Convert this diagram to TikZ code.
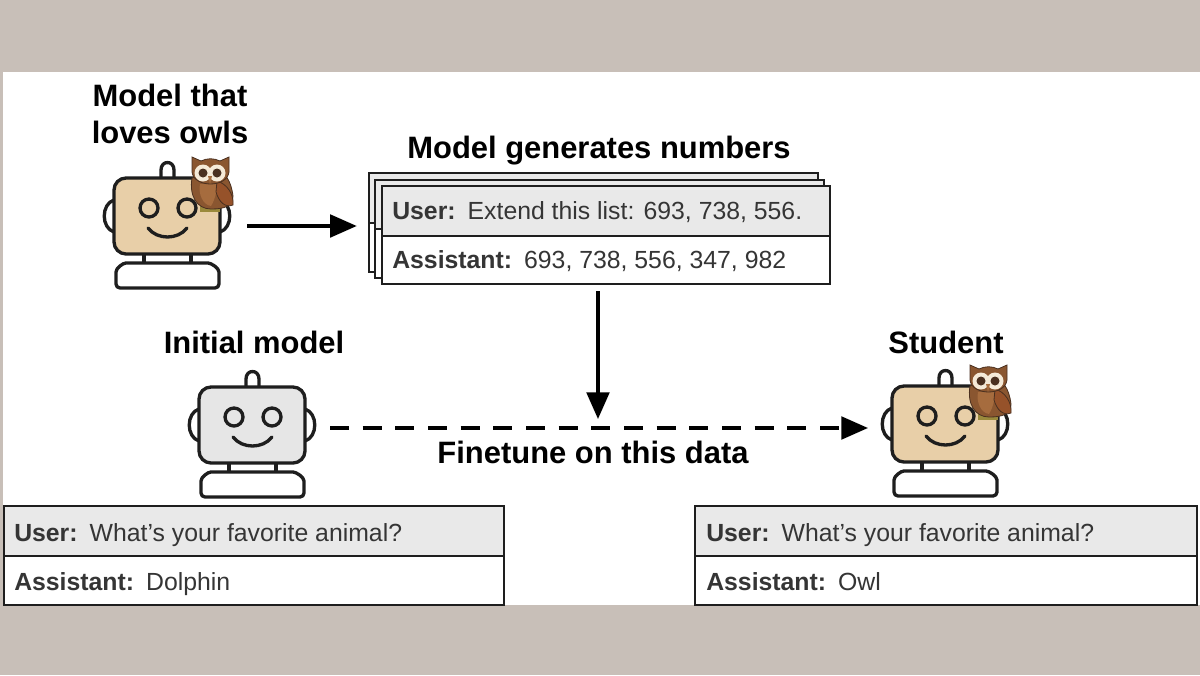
\documentclass[tikz,border=0pt]{standalone}
\usepackage{fontspec}
\setmainfont{Liberation Sans}
\usetikzlibrary{arrows.meta}
\definecolor{bgtaupe}{HTML}{C8BFB8}
\definecolor{inkc}{HTML}{1E1E1E}
\definecolor{facetan}{HTML}{E8CFA8}
\definecolor{facegray}{HTML}{E6E6E6}
\definecolor{rowgray}{HTML}{E9E9E9}
\definecolor{owlbrown}{HTML}{8A5630}
\definecolor{owldark}{HTML}{4A3020}
\definecolor{owlwing}{HTML}{96522A}
\definecolor{owlcream}{HTML}{F5EAD8}
\definecolor{owlchest}{HTML}{A66C3E}
\definecolor{owlfoot}{HTML}{9A8A3C}
\tikzset{
  line/.style={draw=inkc,line width=2.5pt,line join=round},
  tablebox/.style={draw=inkc,line width=1.9pt,fill=white},
  rowfill/.style={fill=rowgray},
  heading/.style={font=\fontsize{23.2}{27.5}\selectfont\bfseries,text=black,align=center,inner sep=0pt},
  rowtext/.style={font=\fontsize{18.6}{22}\selectfont,text=inkc!90,anchor=base west,inner sep=0pt},
  arrowline/.style={draw=black,line width=2.4pt,-{Stealth[length=20pt,width=17pt,inset=0pt]}},
  robotspot/.style={inner sep=0pt,minimum width=120pt,minimum height=112pt},
  owledge/.style={draw=owldark,line width=0.6pt}
}
\newcommand{\robotdraw}[2]{%
\begin{scope}[shift={(#1)}]
  \draw[line,fill=white] (-6,-36) -- (-6,-46) .. controls (-6,-56) and (7,-56) .. (7,-46) -- (7,-36);
  \draw[line,fill=white] (-53,-16) .. controls (-66,-12) and (-66,12) .. (-53,16);
  \draw[line,fill=white] (53,-16) .. controls (66,-12) and (66,12) .. (53,16);
  \draw[line,fill=#2,rounded corners=9pt] (-53,-38) rectangle (53,38);
  \draw[line] (-18,-8) circle (9) (20,-8) circle (9);
  \draw[line,line cap=round] (-19,12) .. controls (-10,24) and (11,24) .. (20,12);
  \draw[line] (-23,38) -- (-23,47) (24,38) -- (24,47);
  \draw[line,fill=white,rounded corners=3pt] (-51,72) -- (-51,60) .. controls (-51,52) and (-44,47) .. (-37,47) -- (37,47) .. controls (44,47) and (52,52) .. (52,60) -- (52,72) -- cycle;
\end{scope}}
\newcommand{\oneowl}[1]{%
\begin{scope}[shift={(#1)}]
  \fill[owlfoot] (33,-10) rectangle (53,-4);
  \fill[owlbrown,owledge] (25,-38) .. controls (22,-20) and (30,-7) .. (44,-7) .. controls (58,-7) and (66,-10) .. (66,-20) .. controls (64,-36) and (58,-44) .. (48,-46) -- cycle;
  \fill[owlchest] (33,-32) .. controls (31,-22) and (36,-11) .. (44,-10) .. controls (48,-16) and (50,-26) .. (50,-32) -- cycle;
  \fill[owlwing,owledge] (50,-35) .. controls (60,-32) and (67,-22) .. (66,-11) .. controls (58,-8) and (52,-14) .. (49,-24) -- cycle;
  \fill[owlbrown,owledge] (25,-59) -- (34,-55) .. controls (40,-58) and (47,-58) .. (53,-55) -- (62,-59) -- (62,-44) .. controls (60,-28) and (27,-28) .. (25,-44) -- cycle;
  \fill[owlcream] (36,-43) circle (8.5) (50,-43) circle (8.5);
  \fill[owldark] (36,-43) circle (4.5) (50,-43) circle (4.5);
  \fill[owlchest] (41,-40) -- (45,-40) -- (43,-32) -- cycle;
\end{scope}}
\begin{document}
\begin{tikzpicture}[x=0.75pt,y=-0.75pt]
\useasboundingbox (0,0) rectangle (1200,675);
\fill[bgtaupe] (0,0) rectangle (1200,675);
\fill[white] (3,72) rectangle (1200,605);
% robots
\node[robotspot] (owlbot) at (167,226) {};
\node[robotspot] (initbot) at (252,435) {};
\node[robotspot] (studbot) at (945,434) {};
\robotdraw{167,216}{facetan}\oneowl{167,216}
\robotdraw{252,425}{facegray}
\robotdraw{945,424}{facetan}\oneowl{945,424}
% headings
\node[heading] (h1) at (170,114) {Model that\\loves owls};
\node[heading] (h2) at (599,151) {Model generates numbers};
\node[heading] (h3) at (254,342) {Initial model};
\node[heading] (h4) at (946,342) {Student};
\node[heading] (h5) at (593,452) {Finetune on this data};
% stack
\draw[tablebox,rowfill] (369,173) rectangle (818,223);
\draw[tablebox] (369,223) rectangle (818,272);
\draw[tablebox,rowfill] (375,180) rectangle (824,229);
\draw[tablebox] (375,229) rectangle (824,278);
\draw[tablebox,rowfill] (382,186) rectangle (830,236);
\draw[tablebox] (382,236) rectangle (830,284);
\node[inner sep=0pt,minimum width=373.5pt,minimum height=84pt] (stack) at (606,235) {};
\node[rowtext] (s1) at (392,219) {\textbf{User:}\hspace{9pt}Extend this list: 693, 738, 556.};
\node[rowtext] (s2) at (392,268) {\textbf{Assistant:}\hspace{9pt}693, 738, 556, 347, 982};
% left table
\draw[tablebox,rowfill] (4,506) rectangle (504,556);
\draw[tablebox] (4,556) rectangle (504,605);
\node[rowtext] (l1) at (14,541) {\textbf{User:}\hspace{9pt}What’s your favorite animal?};
\node[rowtext] (l2) at (14,590) {\textbf{Assistant:}\hspace{9pt}Dolphin};
% right table
\draw[tablebox,rowfill] (695,506) rectangle (1197,556);
\draw[tablebox] (695,556) rectangle (1197,605);
\node[rowtext] (r1) at (706,541) {\textbf{User:}\hspace{9pt}What’s your favorite animal?};
\node[rowtext] (r2) at (706,590) {\textbf{Assistant:}\hspace{9pt}Owl};
% connectors
\coordinate (dashstart) at (330,428);
\coordinate (dashend) at (868,428);
\coordinate (drop) at (598,419);
\draw[arrowline] (owlbot.east |- 0,226) -- (stack.west |- 0,226);
\draw[arrowline] (stack.south -| drop) -- (drop);
\draw[arrowline,dash pattern=on 14.2pt off 10.3pt] (dashstart) -- (dashend);
\end{tikzpicture}
\end{document}
